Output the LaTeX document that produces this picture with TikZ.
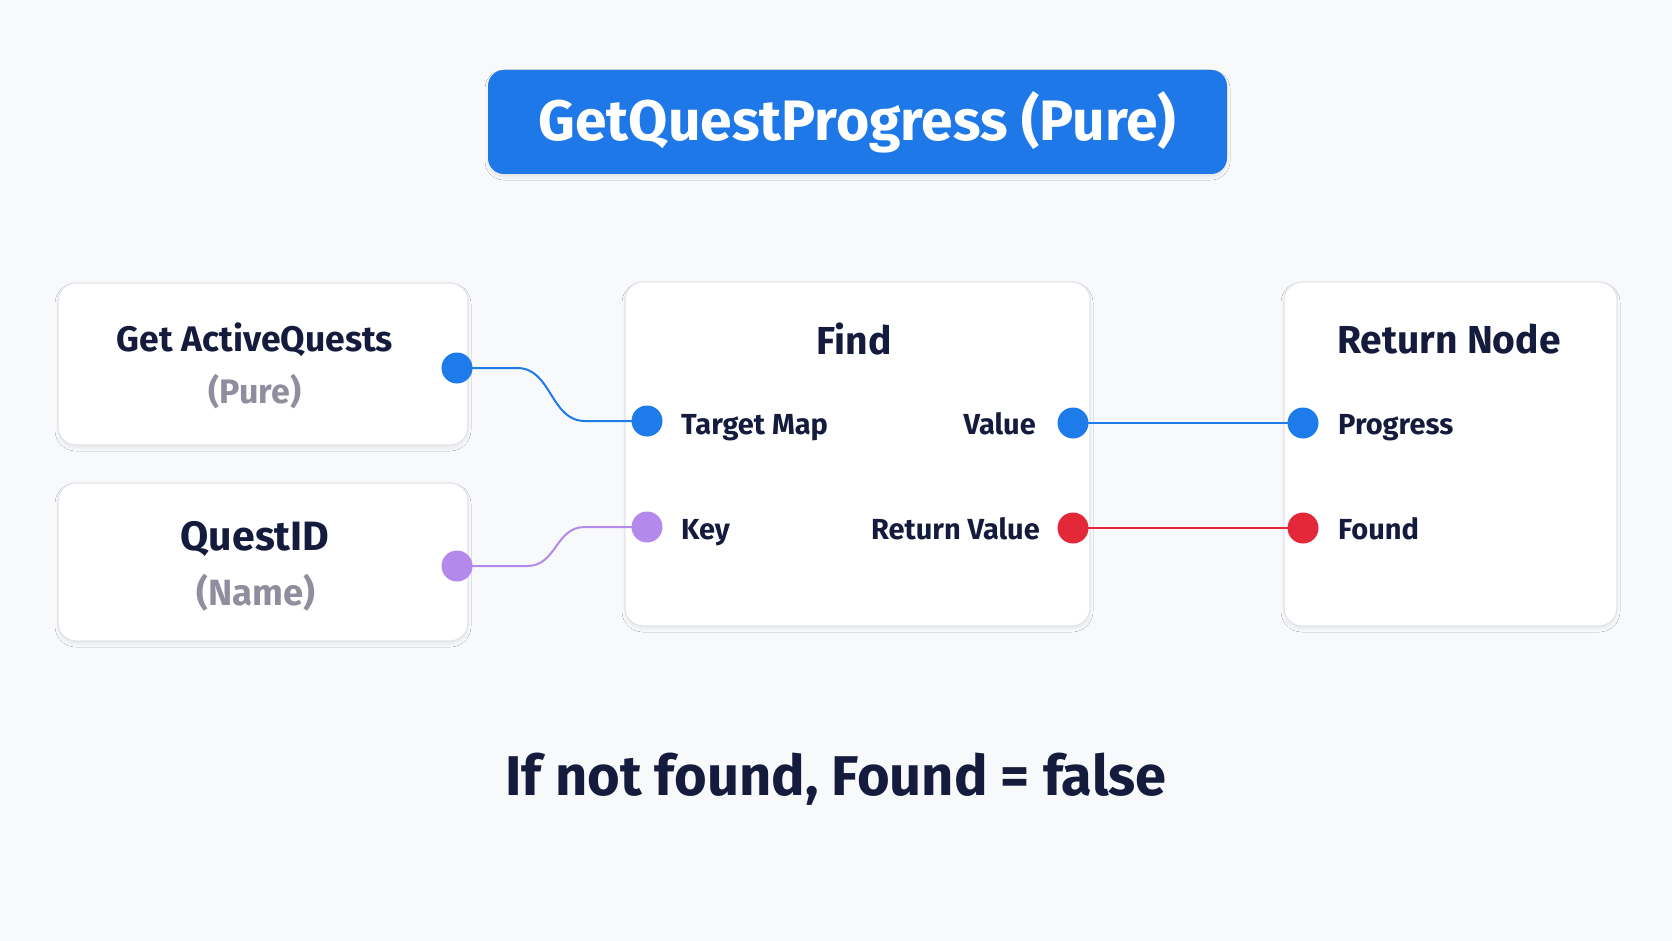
\documentclass[tikz,border=0pt]{standalone}
\usepackage{fontspec}
\setmainfont{Fira Sans}
\usetikzlibrary{shadows.blur}
\definecolor{bgc}{HTML}{F8F9FB}
\definecolor{titleblue}{HTML}{1F78E8}
\definecolor{pinblue}{HTML}{1E7BEA}
\definecolor{pinpurple}{HTML}{B38AEB}
\definecolor{pinred}{HTML}{E3283A}
\definecolor{navy}{HTML}{141B3D}
\definecolor{graytxt}{HTML}{8E8E9E}
\definecolor{boxline}{HTML}{E2E4E9}
\tikzset{
  card/.style={draw=boxline, line width=1.2pt, fill=white, rounded corners=18pt,
    blur shadow={shadow xshift=0pt, shadow yshift=-3pt, shadow opacity=7, shadow blur radius=3pt, shadow scale=1}},
  pin/.style={circle, minimum size=31pt, inner sep=0pt, fill=#1, draw=none},
  wire/.style={line width=2pt, draw=#1},
  ttl/.style={font=\fontsize{39}{46}\selectfont\bfseries, text=navy},
  sub/.style={font=\fontsize{35}{42}\selectfont\bfseries, text=graytxt},
  port/.style={font=\fontsize{29}{34}\selectfont\bfseries, text=navy, inner sep=0pt},
}
\begin{document}
\begin{tikzpicture}[x=1pt,y=-1pt]
\fill[bgc] (0,0) rectangle (1672,941);
\useasboundingbox (0,0) rectangle (1672,941);
% title
\node[fill=titleblue, rounded corners=16pt, minimum width=739pt, minimum height=104pt,
  text=white, font=\fontsize{57}{64}\selectfont\bfseries,
  blur shadow={shadow xshift=0pt, shadow yshift=-3pt, shadow opacity=8, shadow blur radius=3pt}]
  (title) at (857.5,122) {GetQuestProgress (Pure)};
% cards
\node[card, minimum width=410pt, minimum height=162pt] (gaq) at (263,364) {};
\node[card, minimum width=410pt, minimum height=158pt] (qid) at (263,562) {};
\node[card, minimum width=465pt, minimum height=344pt] (find) at (857.5,454) {};
\node[card, minimum width=333pt, minimum height=344pt] (ret) at (1450.5,454) {};
% card texts
\node[ttl, font=\fontsize{35.5}{42}\selectfont\bfseries] (gaqt) at (255,340) {Get ActiveQuests};
\node[sub, font=\fontsize{34}{40}\selectfont\bfseries] (gaqs) at (255,392) {(Pure)};
\node[ttl, font=\fontsize{41}{48}\selectfont\bfseries] (qidt) at (255,539) {QuestID};
\node[sub, font=\fontsize{36.5}{42}\selectfont\bfseries] (qids) at (256,593) {(Name)};
\node[ttl] (findt) at (854,339) {Find};
\node[ttl] (rett) at (1449,339) {Return Node};
% port labels
\node[port, anchor=base west] (ltm) at (681,434) {Target Map};
\node[port, anchor=base west] (lkey) at (681,539) {Key};
\node[port, anchor=base east] (lval) at (1036,434) {Value};
\node[port, anchor=base east] (lrv) at (1040,539) {Return Value};
\node[port, anchor=base west] (lprog) at (1338,434) {Progress};
\node[port, anchor=base west] (lfound) at (1338,539) {Found};
% wires (drawn under pins)
\coordinate (gaqo) at (457,368);
\coordinate (tmi) at (647,421);
\coordinate (qido) at (457,566);
\coordinate (keyi) at (647,527);
\coordinate (valo) at (1073,423);
\coordinate (rvo) at (1073,528);
\coordinate (progi) at (1303,423);
\coordinate (foundi) at (1303,528);
\draw[wire=pinblue] (gaqo) -- ++(60,0) .. controls ++(35,0) and ++(-35,0) .. ([xshift=-62pt]tmi) -- (tmi);
\draw[wire=pinpurple] (qido) -- ++(70,0) .. controls ++(30,0) and ++(-30,0) .. ([xshift=-62pt]keyi) -- (keyi);
\draw[wire=pinblue] (valo) -- (progi);
\draw[wire=pinred] (rvo) -- (foundi);
% pins
\node[pin=pinblue] (pgaq) at (gaqo) {};
\node[pin=pinblue] (ptm) at (tmi) {};
\node[pin=pinpurple] (pqid) at (qido) {};
\node[pin=pinpurple] (pkey) at (keyi) {};
\node[pin=pinblue] (pval) at (valo) {};
\node[pin=pinred] (prv) at (rvo) {};
\node[pin=pinblue] (pprog) at (progi) {};
\node[pin=pinred] (pfound) at (foundi) {};
% bottom note
\node[font=\fontsize{56}{64}\selectfont\bfseries, text=navy] (note) at (836,779) {If not found, Found = false};
\end{tikzpicture}
\end{document}
